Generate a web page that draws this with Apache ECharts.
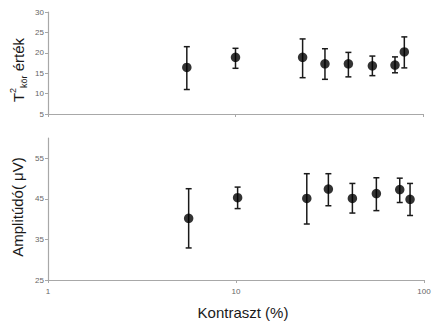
<!DOCTYPE html>
<html>
<head>
<meta charset="utf-8">
<script src="https://cdn.jsdelivr.net/npm/echarts@6/dist/echarts.min.js"></script>
<style>
html,body{margin:0;padding:0;background:#fff;}
#c{width:435px;height:323px;}
</style>
</head>
<body>
<div id="c"></div>
<script>
// ---- data ----
var contrastTop = [5.5, 10, 22.8, 30, 40, 53.7, 70.9, 79.5];
var t2Mean = [16.4, 18.9, 18.9, 17.3, 17.3, 16.8, 17.0, 20.2];
var t2Low  = [11.0, 16.2, 13.9, 13.5, 14.1, 14.4, 15.1, 16.3];
var t2High = [21.5, 21.1, 23.4, 21.0, 20.1, 19.2, 19.0, 23.9];

var contrastBottom = [5.6, 10.2, 23.8, 31, 41.6, 55.8, 74.3, 84.3];
var ampMean = [40.2, 45.3, 45.1, 47.4, 45.1, 46.3, 47.3, 44.9];
var ampLow  = [32.9, 42.6, 38.8, 43.3, 41.5, 42.1, 44.1, 40.9];
var ampHigh = [47.5, 47.9, 51.2, 51.2, 48.8, 50.2, 50.1, 48.8];

var xTicks = [1, 10, 100];
var t2Ticks = [5, 10, 15, 20, 25, 30];
var ampTicks = [25, 35, 45, 55];

// ---- build ----
function pairs(xs, ys) { return xs.map(function (x, i) { return [x, ys[i]]; }); }
function triples(xs, lo, hi) { return xs.map(function (x, i) { return [x, lo[i], hi[i]]; }); }

var ink = '#1a1a1a';
var axisGray = '#a8a8a8';
var labelStyle = { fontFamily: 'Liberation Sans', fontSize: 8, color: '#666' };

function errRender(params, api) {
  var x = api.value(0);
  var lo = api.coord([x, api.value(1)]);
  var hi = api.coord([x, api.value(2)]);
  var w = 3;
  var st = { stroke: ink, lineWidth: 1.5 };
  return {
    type: 'group',
    children: [
      { type: 'line', shape: { x1: lo[0], y1: lo[1], x2: hi[0], y2: hi[1] }, style: st },
      { type: 'line', shape: { x1: hi[0] - w, y1: hi[1], x2: hi[0] + w, y2: hi[1] }, style: st },
      { type: 'line', shape: { x1: lo[0] - w, y1: lo[1], x2: lo[0] + w, y2: lo[1] }, style: st }
    ]
  };
}

function xAxis(gi, showLabel) {
  return {
    type: 'log', logBase: 10, gridIndex: gi, min: 1, max: 100,
    axisLine: { lineStyle: { color: axisGray, width: 1.2 } },
    axisTick: { show: true, length: 3, lineStyle: { color: axisGray } },
    minorTick: { show: false },
    splitLine: { show: false },
    axisLabel: Object.assign({ show: showLabel, margin: 7, customValues: xTicks }, labelStyle)
  };
}
function yAxis(gi, min, max, ticks) {
  return {
    type: 'value', gridIndex: gi, min: min, max: max,
    axisLine: { show: true, lineStyle: { color: axisGray, width: 1.2 } },
    axisTick: { show: true, length: 3, customValues: ticks, lineStyle: { color: axisGray } },
    splitLine: { show: false },
    axisLabel: Object.assign({ margin: 4, customValues: ticks }, labelStyle)
  };
}

var chart = echarts.init(document.getElementById('c'), null, { renderer: 'svg' });
chart.setOption({
  animation: false,
  backgroundColor: '#fff',
  grid: [
    { left: 48, top: 12, width: 375, height: 102 },
    { left: 48, top: 138, width: 376, height: 142 }
  ],
  xAxis: [xAxis(0, false), xAxis(1, true)],
  yAxis: [yAxis(0, 5, 30, t2Ticks), yAxis(1, 25, 60, ampTicks)],
  graphic: [
    {
      type: 'text', x: 18, y: 70, rotation: Math.PI / 2,
      style: {
        text: 'T{sup|2}{sub|kör} érték',
        fontFamily: 'Liberation Sans', fontSize: 15, fill: ink,
        align: 'center', verticalAlign: 'middle',
        rich: {
          sup: { fontSize: 9, fontFamily: 'Liberation Sans', fill: ink, verticalAlign: 'top', lineHeight: 20 },
          sub: { fontSize: 9, fontFamily: 'Liberation Sans', fill: ink, verticalAlign: 'bottom', lineHeight: 20 }
        }
      }
    },
    {
      type: 'text', x: 17, y: 207, rotation: Math.PI / 2,
      style: {
        text: 'Amplitúdó( μV)',
        fontFamily: 'Liberation Sans', fontSize: 15, fill: ink,
        align: 'center', verticalAlign: 'middle'
      }
    },
    {
      type: 'text', x: 243, y: 312,
      style: {
        text: 'Kontraszt (%)',
        fontFamily: 'Liberation Sans', fontSize: 15, fill: ink,
        align: 'center', verticalAlign: 'middle'
      }
    }
  ],
  series: [
    { type: 'custom', xAxisIndex: 0, yAxisIndex: 0, renderItem: errRender,
      data: triples(contrastTop, t2Low, t2High), encode: { x: 0, y: [1, 2] }, z: 1 },
    { type: 'scatter', xAxisIndex: 0, yAxisIndex: 0, symbol: 'circle', symbolSize: 9.5,
      itemStyle: { color: '#000' }, data: pairs(contrastTop, t2Mean), z: 2 },
    { type: 'custom', xAxisIndex: 1, yAxisIndex: 1, renderItem: errRender,
      data: triples(contrastBottom, ampLow, ampHigh), encode: { x: 0, y: [1, 2] }, z: 1 },
    { type: 'scatter', xAxisIndex: 1, yAxisIndex: 1, symbol: 'circle', symbolSize: 9.5,
      itemStyle: { color: '#000' }, data: pairs(contrastBottom, ampMean), z: 2 }
  ]
});
</script>
</body>
</html>
